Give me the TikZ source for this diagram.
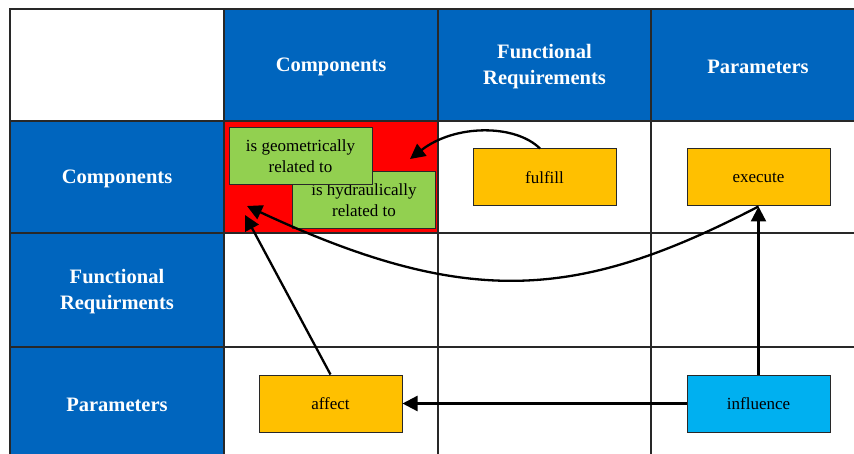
\documentclass[tikz,border=0pt]{standalone}
\usepackage{fontspec}
\setmainfont{Liberation Serif}
\usetikzlibrary{arrows.meta}
\definecolor{hdrblue}{RGB}{0,101,190}
\definecolor{cellred}{RGB}{255,0,0}
\definecolor{boxgreen}{RGB}{146,208,80}
\definecolor{boxorange}{RGB}{255,192,0}
\definecolor{boxcyan}{RGB}{0,176,240}
\definecolor{gridline}{RGB}{40,40,40}
\tikzset{
  hdrtext/.style={text=white, font=\fontsize{20.5}{26}\selectfont\bfseries, align=center, inner sep=0pt},
  gridrule/.style={draw=gridline, line width=1.3pt},
  relbox/.style={draw=gridline, line width=1pt, minimum width=143pt, minimum height=57pt, inner sep=0pt, font=\fontsize{17}{21}\selectfont, align=center},
  greenbox/.style={relbox, fill=boxgreen},
  orangebox/.style={relbox, fill=boxorange},
  cyanbox/.style={relbox, fill=boxcyan},
  conn/.style={line width=2.3pt, -{Triangle[length=15pt,width=15pt]}}
}
\begin{document}
\begin{tikzpicture}[x=1pt,y=-1pt]
\useasboundingbox (0,0) rectangle (854,454);
\begin{scope}
\clip (0,0) rectangle (854,454);
% cell fills
\fill[hdrblue] (224,9) rectangle (866,121);
\fill[hdrblue] (10,121) rectangle (224,460);
\fill[cellred] (224,121) rectangle (438,233);
% grid lines
\draw[gridrule] (10,460) -- (10,9) -- (866,9);
\draw[gridrule] (224,9) -- (224,460);
\draw[gridrule] (438,9) -- (438,460);
\draw[gridrule] (651,9) -- (651,460);
\draw[gridrule] (10,121) -- (866,121);
\draw[gridrule] (10,233) -- (866,233);
\draw[gridrule] (10,347) -- (866,347);
\end{scope}
% header texts
\node[hdrtext] (hComp) at (331,67) {Components};
\node[hdrtext] (hFR) at (544.5,67) {Functional\\Requirements};
\node[hdrtext] (hPar) at (758,67) {Parameters};
\node[hdrtext] (rComp) at (117,179) {Components};
\node[hdrtext] (rFR) at (117,292) {Functional\\Requirments};
\node[hdrtext] (rPar) at (117,405) {Parameters};
% relation boxes
\node[greenbox] (hyd) at (364,200.5) {is hydraulically\\related to};
\node[greenbox] (geo) at (300.5,156) {is geometrically\\related to};
\node[orangebox] (fulfill) at (544.5,177.5) {fulfill};
\node[orangebox] (execute) at (758.5,177.5) {execute};
\node[orangebox] (affect) at (330.5,403.5) {affect};
\node[cyanbox] (influence) at (758.5,403.5) {influence};
% arrow end points inside the red cell
\coordinate (tipA) at (410,159);
\coordinate (tipB) at (247,206);
\coordinate (tipC) at (245,215);
% connectors
\draw[conn] ([xshift=-4.5pt]fulfill.north) .. controls (515,124) and (455,124) .. (tipA);
\draw[conn] (execute.south) .. controls (580,299) and (470,310) .. (tipB);
\draw[conn] (affect.north) -- (tipC);
\draw[conn] (influence.west) -- (affect.east);
\draw[conn] (influence.north) -- (execute.south);
\end{tikzpicture}
\end{document}
